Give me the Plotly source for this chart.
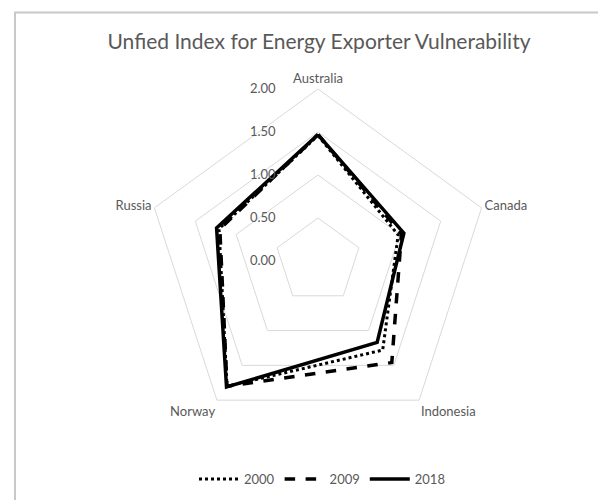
import plotly.graph_objects as go

categories = ["Australia", "Canada", "Indonesia", "Norway", "Russia"]
years = ["2000", "2009", "2018"]
values_2000 = [1.46, 0.98, 1.28, 1.80, 1.21]
values_2009 = [1.47, 1.02, 1.46, 1.80, 1.20]
values_2018 = [1.47, 1.05, 1.17, 1.81, 1.24]
tick_vals = [0, 0.5, 1.0, 1.5, 2.0]
tick_text = ["0.00", "0.50", "1.00", "1.50", "2.00"]

series = [values_2000, values_2009, values_2018]
dashes = ["dot", "dash", "solid"]
widths = [3, 3.5, 3.5]

# the page body has an 8px margin, so the figure is sized/positioned to compensate
OFF = 8
W, H = 606 - OFF, 500 - OFF
FONT = "Lato"
GRAY = "#595959"
GRID = "#d9d9d9"
PAD = "\u00a0" * 12  # pushes the tick label text to the left of the axis


def px(x):
    return (x - OFF) / W


def py(y):
    return 1 - (y - OFF) / H


fig = go.Figure()
for name, vals, d, w in zip(years, series, dashes, widths):
    fig.add_trace(go.Scatterpolar(
        r=vals + vals[:1],
        theta=categories + categories[:1],
        mode="lines",
        name=name,
        line=dict(color="black", width=w, dash=d),
    ))

cx, cy, R = 318, 261, 172
fig.update_layout(
    width=W, height=H,
    margin=dict(l=0, r=0, t=0, b=0),
    paper_bgcolor="white",
    plot_bgcolor="white",
    font=dict(family=FONT, color=GRAY, size=13),
    title=dict(text="Unfied Index for Energy Exporter Vulnerability",
               x=px(319), xanchor="center", y=py(42), yanchor="middle",
               font=dict(family=FONT, size=21, color=GRAY)),
    polar=dict(
        domain=dict(x=[px(cx - R), px(cx + R)],
                    y=[py(cy + R), py(cy - R)]),
        bgcolor="white",
        gridshape="linear",
        radialaxis=dict(range=[0, 2], tickvals=tick_vals,
                        ticktext=[t + PAD for t in tick_text],
                        angle=90, tickangle=90, side="counterclockwise",
                        showline=False, ticks="",
                        gridcolor=GRID, gridwidth=1,
                        tickfont=dict(family=FONT, size=13, color=GRAY)),
        angularaxis=dict(direction="clockwise", rotation=90,
                         showgrid=False, showline=True, linecolor=GRID,
                         linewidth=1, ticks="",
                         tickfont=dict(family=FONT, size=13, color=GRAY)),
    ),
    showlegend=True,
    legend=dict(orientation="h", x=px(322), xanchor="center",
                y=py(479), yanchor="middle",
                font=dict(family=FONT, size=13, color=GRAY),
                itemwidth=40),
    shapes=[
        dict(type="line", xref="paper", yref="paper",
             x0=px(14), x1=1.0, y0=py(12.5), y1=py(12.5),
             line=dict(color="#c8c8c8", width=2)),
        dict(type="line", xref="paper", yref="paper",
             x0=px(15), x1=px(15), y0=0, y1=py(12.5),
             line=dict(color="#c8c8c8", width=2)),
    ],
)

fig.write_html("out.html")
